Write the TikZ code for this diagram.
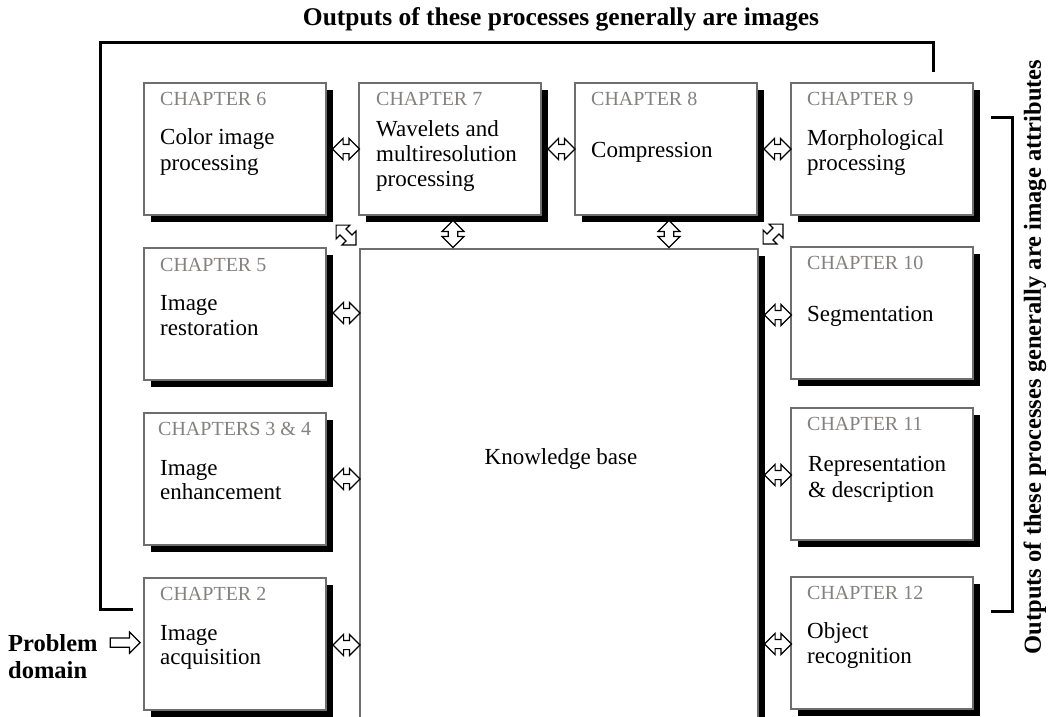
\documentclass[tikz,border=0pt]{standalone}
\usepackage{fontspec}
\setmainfont{Liberation Serif}
\usetikzlibrary{shadows,shapes.arrows,calc}
\definecolor{chapgray}{RGB}{132,130,128}
\definecolor{boxline}{RGB}{110,110,110}
\begin{document}
\begin{tikzpicture}[x=1pt,y=-1pt,
  chbox/.style={draw=boxline, line width=1.1pt, fill=white, minimum width=182pt, minimum height=132pt,
    inner sep=0pt, outer sep=0pt, anchor=north west,
    drop shadow={shadow xshift=7pt, shadow yshift=-7pt, fill=black, opacity=1}},
  chap/.style={anchor=base west, inner sep=0pt, font=\fontsize{20}{24}\selectfont, text=chapgray},
  body/.style={anchor=base west, inner sep=0pt, font=\fontsize{23}{26}\selectfont},
  ttl/.style={inner sep=0pt, font=\fontsize{24.5}{28}\selectfont\bfseries},
  harr/.style={shape=double arrow, draw=black, line width=1.2pt, fill=white, inner xsep=0pt, inner ysep=4pt,
    minimum height=27pt, minimum width=20pt, double arrow head extend=6pt, double arrow head indent=0pt},
  darr/.style={harr, minimum height=28pt, minimum width=19pt, inner ysep=3.6pt, double arrow head extend=5.5pt},
  sarr/.style={shape=single arrow, draw=black, line width=1.2pt, fill=white, inner xsep=0pt, inner ysep=4pt,
    minimum height=30pt, minimum width=20pt, single arrow head extend=6pt, single arrow head indent=0pt},
  fb/.style={line width=3pt, line join=miter, draw=black}
]
\useasboundingbox (0,0) rectangle (1050,717);
\clip (0,0) rectangle (1050,717);

% titles
\node[ttl, anchor=base, font=\fontsize{25.5}{28}\selectfont\bfseries] (ttop) at (561,26) {Outputs of these processes generally are images};
\node[ttl, rotate=90] (tright) at (1035,357) {Outputs of these processes generally are image attributes};

% boxes
\node[chbox] (c6) at (144,83) {};
\node[chbox] (c7) at (359,83) {};
\node[chbox] (c8) at (575,83) {};
\node[chbox] (c9) at (791,83) {};
\node[chbox] (c5) at (144,248) {};
\node[chbox] (c34) at (144,413) {};
\node[chbox] (c2) at (144,578) {};
\node[chbox] (c10) at (791,247) {};
\node[chbox] (c11) at (791,408) {};
\node[chbox] (c12) at (791,577) {};
\node[chbox, minimum width=398pt, minimum height=500pt] (kb) at (360,249) {};

% texts
\node[chap] (c6a) at (160,105) {CHAPTER 6};
\node[body] (c6b) at (160,144) {Color image};
\node[body] (c6c) at (160,170) {processing};

\node[chap] (c7a) at (376,105) {CHAPTER 7};
\node[body] (c7b) at (376,136) {Wavelets and};
\node[body] (c7c) at (376,161) {multiresolution};
\node[body] (c7d) at (376,186) {processing};

\node[chap] (c8a) at (591,105) {CHAPTER 8};
\node[body] (c8b) at (591,157) {Compression};

\node[chap] (c9a) at (807,105) {CHAPTER 9};
\node[body] (c9b) at (807,145) {Morphological};
\node[body] (c9c) at (807,170) {processing};

\node[chap] (c5a) at (160,271) {CHAPTER 5};
\node[body] (c5b) at (160,310) {Image};
\node[body] (c5c) at (160,335) {restoration};

\node[chap] (c34a) at (158,435) {CHAPTERS 3 \& 4};
\node[body] (c34b) at (160,475) {Image};
\node[body] (c34c) at (160,499) {enhancement};

\node[chap] (c2a) at (160,600) {CHAPTER 2};
\node[body] (c2b) at (160,640) {Image};
\node[body] (c2c) at (160,664) {acquisition};

\node[chap] (c10a) at (807,269) {CHAPTER 10};
\node[body] (c10b) at (807,321) {Segmentation};

\node[chap] (c11a) at (807,430) {CHAPTER 11};
\node[body] (c11b) at (808,471) {Representation};
\node[body] (c11c) at (808,497) {\& description};

\node[chap] (c12a) at (807,599) {CHAPTER 12};
\node[body] (c12b) at (807,638) {Object};
\node[body] (c12c) at (807,663) {recognition};

\node[body, anchor=base] (kbt) at (561,464) {Knowledge base};

% problem domain
\node[ttl, anchor=base west] (pd1) at (8,651) {Problem};
\node[ttl, anchor=base west] (pd2) at (8,678) {domain};
\node[sarr] (parr) at ($(pd1.east)!0.5!(c2.west |- pd1.east)+(2pt,0pt)$) {};

% arrows between top boxes
\node[harr] (a67) at ($(c6.east)!0.5!(c7.west)+(3.5pt,0pt)$) {};
\node[harr] (a78) at ($(c7.east)!0.5!(c8.west)+(3.5pt,0pt)$) {};
\node[harr] (a89) at ($(c8.east)!0.5!(c9.west)+(3.5pt,0pt)$) {};

% vertical arrows
\node[harr, rotate=90, minimum width=22pt] (a7k) at ($(c7.south)!0.5!(c7.south |- kb.north)+(3pt,-2pt)$) {};
\node[harr, rotate=90, minimum width=22pt] (a8k) at ($(c8.south)!0.5!(c8.south |- kb.north)+(3pt,-2pt)$) {};

% diagonal arrows
\node[darr, rotate=-45] (a6k) at (346,235) {};
\node[darr, rotate=45] (a9k) at (773,234) {};

% left column to knowledge base
\node[harr] (a5k) at ($(c5.east)!0.5!(c5.east -| kb.west)+(3.5pt,1pt)$) {};
\node[harr] (a34k) at ($(c34.east)!0.5!(c34.east -| kb.west)+(3.5pt,0pt)$) {};
\node[harr] (a2k) at ($(c2.east)!0.5!(c2.east -| kb.west)+(3.5pt,-1pt)$) {};

% knowledge base to right column
\node[harr] (ak10) at ($(kb.east |- c10.west)!0.5!(c10.west)+(3.5pt,-2pt)$) {};
\node[harr] (ak11) at ($(kb.east |- c11.west)!0.5!(c11.west)+(3.5pt,-1pt)$) {};
\node[harr] (ak12) at ($(kb.east |- c12.west)!0.5!(c12.west)+(3.5pt,-1pt)$) {};

% feedback line
\coordinate (fbA) at ([xshift=142pt,yshift=11pt]c9.north west);
\coordinate (fbB) at (100,43);
\coordinate (fbC) at ([xshift=-11pt,yshift=-31pt]c2.north west);
\draw[fb] (fbA) |- (fbB) |- (fbC);

% bracket on the right
\coordinate (brT) at ([xshift=18pt,yshift=-34pt]c9.north east);
\coordinate (brB) at ([xshift=18pt,yshift=-34pt]c12.north east);
\draw[fb] (brT) -- ++(21pt,0pt) |- (brB);
\end{tikzpicture}
\end{document}
